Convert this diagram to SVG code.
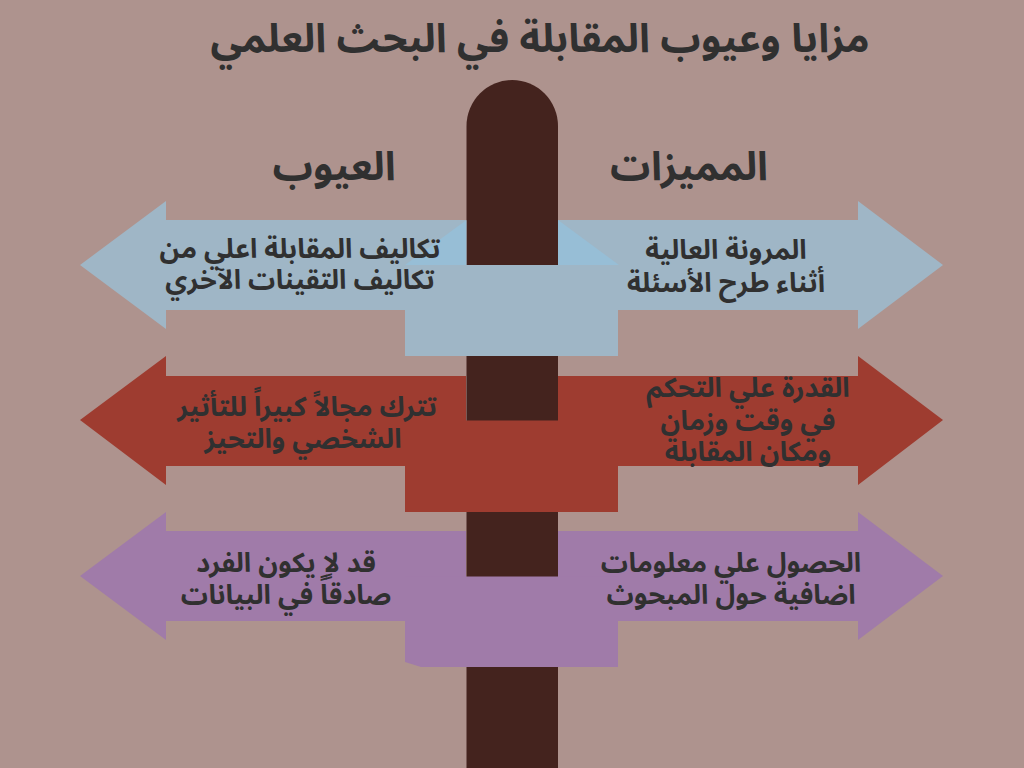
<svg xmlns="http://www.w3.org/2000/svg" width="1024" height="768" viewBox="0 0 1024 768">
<style>
text{font-family:"Noto Sans Arabic","Noto Sans","DejaVu Sans",sans-serif;font-weight:bold;fill:#303030;text-anchor:middle;direction:rtl}
.t{font-size:40px}
.h{font-size:40px}
.b{font-size:27px}
.pole{fill:#44231e}
.blue{fill:#9fb6c6}
.lblue{fill:#97bed6}
.red{fill:#9e3c30}
.pur{fill:#a07ba9}
</style>
<rect width="1024" height="768" fill="#ae938e"/>
<g id="title"><text class="t" x="540" y="52">مزايا وعيوب المقابلة في البحث العلمي</text></g>
<g id="header-cons"><text class="h" x="334" y="180">العيوب</text></g>
<g id="header-pros"><text class="h" x="689" y="180">المميزات</text></g>
<g id="connectors">
<g id="row1-arrows">
<polygon class="blue" points="80,265 166,201 166,220 466,220 466,310 166,310 166,329"/>
<polygon class="blue" points="943,265 858,201 858,220 558,220 558,310 858,310 858,329"/>
</g>
<g id="row2-arrows">
<polygon class="red" points="80,420 166,356 166,376 466,376 466,466 166,466 166,485"/>
<polygon class="red" points="943,420 858,356 858,376 558,376 558,466 858,466 858,485"/>
</g>
<g id="row3-arrows">
<polygon class="pur" points="80,576 166,512 166,531 466,531 466,621 166,621 166,640"/>
<polygon class="pur" points="943,576 858,512 858,531 558,531 558,621 858,621 858,640"/>
</g>
<g id="pole"><path class="pole" d="M466.5,768 V126 A45.75,46 0 0 1 558,126 V768 Z"/></g>
<polygon class="lblue" points="466.5,220 405,265 466.5,265"/>
<polygon class="lblue" points="558,220 619,265 558,265"/>
<rect class="blue" x="405" y="265" width="213" height="91"/>
<rect class="red" x="405" y="420.5" width="213" height="91.5"/>
<polygon class="pur" points="405,576.5 618,576.5 618,667 421,667 405,662"/>
</g>
<g id="n-cons1"><text class="b" x="300" y="258">تكاليف المقابلة اعلي من</text><text class="b" x="300" y="289">تكاليف التقينات الآخري</text></g>
<g id="n-pros1"><text class="b" x="726" y="259">المرونة العالية</text><text class="b" x="726" y="292">أثناء طرح الأسئلة</text></g>
<g id="n-cons2"><text class="b" x="307" y="416">تترك مجالاً كبيراً للتأثير</text><text class="b" x="303" y="448">الشخصي والتحيز</text></g>
<g id="n-pros2"><text class="b" x="748" y="397">القدرة علي التحكم</text><text class="b" x="748" y="430">في وقت وزمان</text><text class="b" x="748" y="461">ومكان المقابلة</text></g>
<g id="n-cons3"><text class="b" x="286" y="572">قد لاٍ يكون الفرد</text><text class="b" x="286" y="604">صادقاً في البيانات</text></g>
<g id="n-pros3"><text class="b" x="731" y="572">الحصول علي معلومات</text><text class="b" x="731" y="604">اضافية حول المبحوث</text></g>
</svg>
